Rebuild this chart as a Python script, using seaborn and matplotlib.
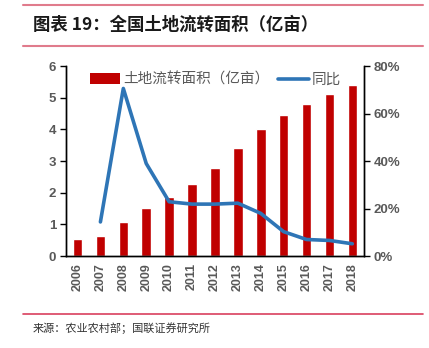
import numpy as np
import pandas as pd
import matplotlib
matplotlib.use("Agg")
import matplotlib.pyplot as plt
from matplotlib.lines import Line2D
from matplotlib.patches import Patch
import seaborn as sns

years = ["2006", "2007", "2008", "2009", "2010", "2011", "2012",
         "2013", "2014", "2015", "2016", "2017", "2018"]
area = [0.55, 0.64, 1.09, 1.52, 1.87, 2.28, 2.78, 3.41, 4.03, 4.47, 4.79, 5.12, 5.39]
yoy = [np.nan, 14.4, 70.6, 39.0, 22.9, 21.9, 21.9, 22.3, 18.0, 10.3, 7.0, 6.6, 5.2]

bar_label = "土地流转面积（亿亩）"
line_label = "同比"
title = "图表 19：全国土地流转面积（亿亩）"
source = "来源：农业农村部；国联证券研究所"

sns.set_theme(style="white")
plt.rcParams["font.family"] = ["Noto Sans CJK SC", "DejaVu Sans"]

BAR_C = "#C00000"
LINE_C = "#2E75B6"
TICK_C = "#595959"

df = pd.DataFrame({"year": years, "area": area, "yoy": yoy, "pos": np.arange(len(years))})

fig = plt.figure(figsize=(4.29, 3.48), dpi=100)
ax = fig.add_axes([0.154, 0.264, 0.694, 0.546])

sns.barplot(data=df, x="year", y="area", color=BAR_C, width=0.42,
            saturation=1, ax=ax, zorder=2)
ax.set_xlim(-0.5, len(years) - 0.5)
ax.set_ylim(0, 6)
ax.set_yticks(np.arange(0, 7, 1))
ax.set_xlabel("")
ax.set_ylabel("")

ax2 = ax.twinx()
sns.lineplot(data=df, x="pos", y="yoy", color=LINE_C, linewidth=2.6,
             ax=ax2, zorder=3)
ax2.set_ylim(0, 80)
ax2.set_yticks(np.arange(0, 81, 20))
ax2.set_yticklabels([f"{v}%" for v in range(0, 81, 20)])
ax2.set_xlim(-0.5, len(years) - 0.5)
ax2.set_xlabel("")
ax2.set_ylabel("")

# spines: left, bottom, right in black; no top
for a in (ax, ax2):
    a.spines["top"].set_visible(False)
    for s in ("left", "bottom", "right"):
        a.spines[s].set_color("black")
        a.spines[s].set_linewidth(1.0)
    a.grid(False)

tick_font = dict(family=["Liberation Sans", "DejaVu Sans"], weight="bold", size=9)
ax.set_xticks(np.arange(len(years)))
ax.set_xticklabels(years, rotation=90, color=TICK_C, **tick_font)
ax.set_xticks(np.arange(-0.5, len(years), 1), minor=True)
ax.tick_params(axis="x", which="major", length=0, pad=5)
ax.tick_params(axis="x", which="minor", length=4, width=1, color="black", direction="out")
ax.tick_params(axis="y", length=4, width=1, color="black", direction="out", left=True, pad=3)
for t in ax.get_yticklabels():
    t.set_color(TICK_C)
    t.set_fontfamily(["Liberation Sans", "DejaVu Sans"])
    t.set_fontweight("bold")
    t.set_fontsize(9.5)
ax2.tick_params(axis="y", length=4, width=1, color="black", direction="out", right=True, pad=3)
for t in ax2.get_yticklabels():
    t.set_color(TICK_C)
    t.set_fontfamily(["Liberation Sans", "DejaVu Sans"])
    t.set_fontweight("bold")
    t.set_fontsize(9.5)

handles = [Patch(facecolor=BAR_C, edgecolor="none"),
           Line2D([0], [0], color=LINE_C, linewidth=2.6)]
leg = ax2.legend(handles, [bar_label, line_label], loc="upper left",
                 bbox_to_anchor=(0.035, 1.035), ncol=2, frameon=False,
                 fontsize=10.5, handlelength=2.1, handleheight=0.7,
                 handletextpad=0.2, columnspacing=0.6)
for t in leg.get_texts():
    t.set_color(TICK_C)

# header and footer
fig.add_artist(Line2D([23 / 429, 423 / 429], [1 - 5 / 348, 1 - 5 / 348],
                      color="#E07B8C", linewidth=1.5, transform=fig.transFigure))
fig.add_artist(Line2D([23 / 429, 423 / 429], [1 - 46 / 348, 1 - 46 / 348],
                      color="#E07B8C", linewidth=1.5, transform=fig.transFigure))
fig.text(33 / 429, 1 - 25 / 348, title, fontsize=12.5, fontweight="bold",
         color="#1a1a1a", va="center", ha="left", style="italic")
fig.add_artist(Line2D([23 / 429, 423 / 429], [1 - 314 / 348, 1 - 314 / 348],
                      color="#D9405E", linewidth=1.2, transform=fig.transFigure))
fig.text(33 / 429, 1 - 328 / 348, source, fontsize=8, color="#333333",
         va="center", ha="left")

fig.savefig("out.png", dpi=100)
